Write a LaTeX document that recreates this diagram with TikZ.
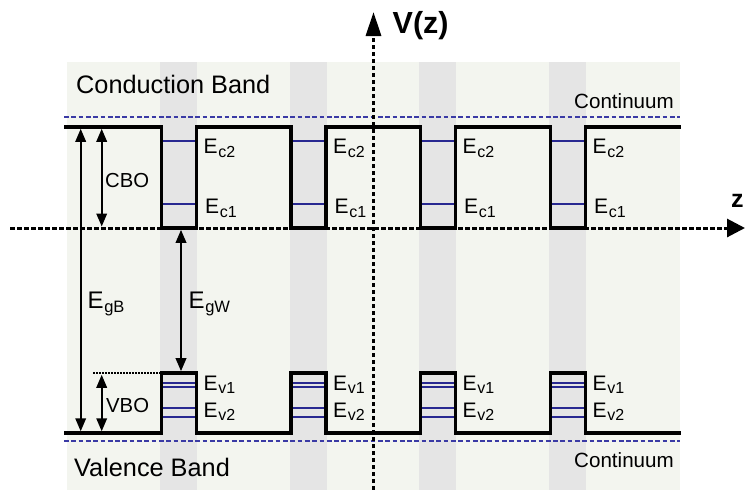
\documentclass[tikz,border=0pt]{standalone}
\usepackage{fontspec}
\setmainfont{Liberation Sans}
\usetikzlibrary{arrows.meta}
\definecolor{bgc}{RGB}{243,245,239}
\definecolor{stripec}{RGB}{229,229,229}
\definecolor{lvlblue}{RGB}{40,40,145}
\definecolor{dashblue}{RGB}{58,58,165}
\newcommand\Elab[1]{\fontsize{21}{21}\selectfont E\kern0.6pt\raisebox{-3.5pt}{\fontsize{16}{16}\selectfont #1}}
\newcommand\Egap[1]{\fontsize{24}{24}\selectfont E\kern0.6pt\raisebox{-4pt}{\fontsize{16.5}{16.5}\selectfont #1}}
\tikzset{
  band/.style={line width=3.4pt, black, line join=miter},
  lvl/.style={line width=2.6pt, lvlblue},
  lvlthin/.style={line width=2.3pt, lvlblue},
  bluedash/.style={line width=2.8pt, dashblue, dash pattern=on 4.7pt off 2.6pt},
  axisline/.style={line width=3pt, black, dash pattern=on 4.5pt off 2.5pt},
  dbl/.style={line width=1.9pt, black, {Triangle[length=13pt,width=10.5pt]}-{Triangle[length=13pt,width=10.5pt]}},
  lab/.style={inner sep=0pt, anchor=base west},
}
\begin{document}
\begin{tikzpicture}[x=1pt,y=-1pt]
\useasboundingbox (0,0) rectangle (745,490);
% background
\fill[bgc] (67,62) rectangle (680,490);
\foreach \L in {161.5,291,420.5,550.5} {
  \fill[stripec] (\L-1.5,62) rectangle (\L+35.5,490);
}
% continuum lines
\draw[bluedash] (64,117) -- (680,117);
\draw[bluedash] (64,441) -- (680,441);
% energy levels
\foreach \L in {161.5,291,420.5,550.5} {
  \draw[lvl] (\L,141) -- (\L+35,141);
  \draw[lvl] (\L,204) -- (\L+35,204);
  \draw[lvlthin] (\L,382.7) -- (\L+35,382.7);
  \draw[lvlthin] (\L,387.1) -- (\L+35,387.1);
  \draw[lvlthin] (\L,408.3) -- (\L+35,408.3);
  \draw[lvlthin] (\L,416.7) -- (\L+35,416.7);
}
% axes
\coordinate (zs) at (10,228);
\coordinate (ze) at (745,228);
\coordinate (vs) at (373.5,490);
\coordinate (ve) at (373.5,12);
\draw[axisline, -{Triangle[length=18pt,width=18pt]}] (zs) -- (ze);
\draw[axisline, -{Triangle[length=24pt,width=15pt]}] (vs) -- (ve);
% band profiles
\draw[band] (64,127) -- (161.5,127) -- (161.5,228) -- (196.5,228) -- (196.5,127)
  -- (291,127) -- (291,228) -- (326,228) -- (326,127)
  -- (420.5,127) -- (420.5,228) -- (455.5,228) -- (455.5,127)
  -- (550.5,127) -- (550.5,228) -- (585.5,228) -- (585.5,127) -- (681,127);
\draw[band] (64,433) -- (161.5,433) -- (161.5,373) -- (196.5,373) -- (196.5,433)
  -- (291,433) -- (291,373) -- (326,373) -- (326,433)
  -- (420.5,433) -- (420.5,373) -- (455.5,373) -- (455.5,433)
  -- (550.5,433) -- (550.5,373) -- (585.5,373) -- (585.5,433) -- (681,433);
% level labels
\foreach \L [count=\i] in {161.5,291,420.5,550.5} {
  \node[lab] (ec2-\i) at (\L+42,153.5) {\Elab{c2}};
  \node[lab] (ec1-\i) at (\L+43.5,213.5) {\Elab{c1}};
  \node[lab] (ev1-\i) at (\L+42,390) {\Elab{v1}};
  \node[lab] (ev2-\i) at (\L+42,417) {\Elab{v2}};
}
% dimension arrows
\coordinate (egbT) at (80.7,128.8);
\coordinate (egbB) at (80.7,431.3);
\coordinate (cboT) at (101.7,128.8);
\coordinate (cboB) at (101.7,226.5);
\coordinate (vboT) at (101.7,374.8);
\coordinate (vboB) at (101.7,431.3);
\coordinate (egwT) at (181,229.8);
\coordinate (egwB) at (181,371.2);
\coordinate (dotA) at (93,373);
\coordinate (dotB) at (160,373);
\draw[dbl] (egbT) -- (egbB);
\draw[dbl] (cboT) -- (cboB);
\draw[dbl] (vboT) -- (vboB);
\draw[dbl] (egwT) -- (egwB);
\draw[line width=1.2pt, black, dash pattern=on 1.5pt off 1.5pt] (dotA) -- (dotB);
% texts
\node[lab] (cb) at (76,93) {\fontsize{25.3}{25.3}\selectfont Conduction Band};
\node[lab] (vb) at (74,476.5) {\fontsize{25.3}{25.3}\selectfont Valence Band};
\node[lab] (cont1) at (574,108.3) {\fontsize{20.6}{20.6}\selectfont Continuum};
\node[lab] (cont2) at (574,467.3) {\fontsize{20.6}{20.6}\selectfont Continuum};
\node[lab] (cbo) at (105,187.3) {\fontsize{20.3}{20.3}\selectfont CBO};
\node[lab] (vbo) at (106,412.3) {\fontsize{20.3}{20.3}\selectfont VBO};
\node[lab] (egb) at (87.5,308.5) {\Egap{gB}};
\node[lab] (egw) at (188.5,308.5) {\Egap{gW}};
\node[lab] (vz) at (392.5,33.5) {\fontsize{30.5}{30.5}\selectfont\bfseries V(z)};
\node[lab] (zl) at (731,207) {\fontsize{25}{25}\selectfont\bfseries z};
\end{tikzpicture}
\end{document}
